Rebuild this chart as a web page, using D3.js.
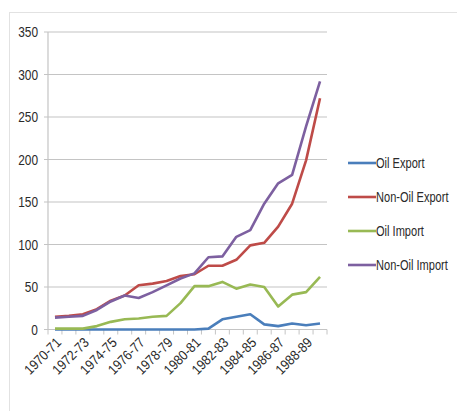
<!DOCTYPE html>
<html>
<head>
<meta charset="utf-8">
<script src="https://cdn.jsdelivr.net/npm/d3@7"></script>
<style>
  body { margin: 0; background: #fff; }
  text { font-family: "Liberation Sans", Arial, sans-serif; fill: #2a2a2a; }
</style>
</head>
<body>
<div id="chart"></div>
<script>
// years (fiscal)
const years = ["1970-71","1971-72","1972-73","1973-74","1974-75","1975-76","1976-77","1977-78","1978-79","1979-80",
               "1980-81","1981-82","1982-83","1983-84","1984-85","1985-86","1986-87","1987-88","1988-89","1989-90"];
const seriesNames = ["Oil Export", "Non-Oil Export", "Oil Import", "Non-Oil Import"];
const oilExport    = [0, 0, 0, 0, 0, 0, 0, 0, 0, 0, 0, 1, 12, 15, 18, 6, 4, 7, 5, 7];
const nonOilExport = [15, 16, 18, 24, 34, 40, 52, 54, 57, 63, 65, 75, 75, 82, 99, 102, 121, 148, 199, 272];
const oilImport    = [1, 1, 1, 4, 9, 12, 13, 15, 16, 31, 51, 51, 56, 48, 53, 50, 27, 41, 44, 62];
const nonOilImport = [14, 15, 16, 23, 33, 40, 37, 44, 52, 60, 66, 85, 86, 109, 117, 148, 172, 182, 239, 292];
const yTicks = [0, 50, 100, 150, 200, 250, 300, 350];
const colors = ["#4A7EBB", "#BE4B48", "#98B954", "#7D60A0"];

const allSeries = [oilExport, nonOilExport, oilImport, nonOilImport];

const width = 457, height = 411;
const svg = d3.select("#chart").append("svg")
    .attr("width", width)
    .attr("height", height);

// chart frame
svg.append("rect")
    .attr("x", 9.5).attr("y", 12.5)
    .attr("width", 470).attr("height", 420)
    .attr("fill", "none")
    .attr("stroke", "#e2e2e2");

let x = d3.scaleBand()
    .domain(years)
    .range([48, 327]);

let y = d3.scaleLinear()
    .domain([0, 350])
    .range([329.5, 32]);

// gridlines
svg.append("g")
    .selectAll("line")
    .data(yTicks.slice(1))
    .enter()
    .append("line")
    .attr("x1", 44).attr("x2", 327)
    .attr("y1", d => y(d)).attr("y2", d => y(d))
    .attr("stroke", "#c4c4c4")
    .attr("stroke-width", 1.2);

// y axis
svg.append("line")
    .attr("x1", 48).attr("x2", 48)
    .attr("y1", y(350)).attr("y2", y(0))
    .attr("stroke", "#c4c4c4")
    .attr("stroke-width", 1.2);

// the reference font is narrow, so labels get squeezed with scale(k,1)
svg.append("g")
    .selectAll("text")
    .data(yTicks)
    .enter()
    .append("text")
    .attr("transform", d => "translate(38," + (y(d) + 5) + ") scale(0.85,1)")
    .attr("text-anchor", "end")
    .style("font-size", "14px")
    .text(d => d);

// x axis
svg.append("line")
    .attr("x1", 44).attr("x2", 327)
    .attr("y1", y(0)).attr("y2", y(0))
    .attr("stroke", "#c4c4c4")
    .attr("stroke-width", 1.2);

let boundaries = years.map(d => x(d)).concat([x.range()[1]]);
svg.append("g")
    .selectAll("line")
    .data(boundaries)
    .enter()
    .append("line")
    .attr("x1", d => d).attr("x2", d => d)
    .attr("y1", y(0)).attr("y2", y(0) + 5)
    .attr("stroke", "#c4c4c4");

svg.append("g")
    .selectAll("text")
    .data(years.filter((d, i) => i % 2 === 0))
    .enter()
    .append("text")
    .attr("text-anchor", "end")
    .attr("transform", d => "translate(" + (x(d) + x.bandwidth() / 2 + 7) + "," + (y(0) + 14) + ") rotate(-45) scale(0.88,1)")
    .style("font-size", "14px")
    .text(d => d);

// series lines
let line = d3.line()
    .x((d, i) => x(years[i]) + x.bandwidth() / 2)
    .y(d => y(d));

svg.append("g")
    .selectAll("path")
    .data(allSeries)
    .enter()
    .append("path")
    .attr("d", line)
    .attr("fill", "none")
    .attr("stroke", (d, i) => colors[i])
    .attr("stroke-width", 2.6)
    .attr("stroke-linejoin", "round");

// legend
let legend = svg.append("g")
    .attr("transform", "translate(348,163)");

legend.selectAll("line")
    .data(seriesNames)
    .enter()
    .append("line")
    .attr("x1", 0).attr("x2", 28)
    .attr("y1", (d, i) => i * 34).attr("y2", (d, i) => i * 34)
    .attr("stroke", (d, i) => colors[i])
    .attr("stroke-width", 2.6);

legend.selectAll("text")
    .data(seriesNames)
    .enter()
    .append("text")
    .attr("transform", (d, i) => "translate(28," + (i * 34 + 5) + ") scale(0.79,1)")
    .style("font-size", "14px")
    .text(d => d);
</script>
</body>
</html>
